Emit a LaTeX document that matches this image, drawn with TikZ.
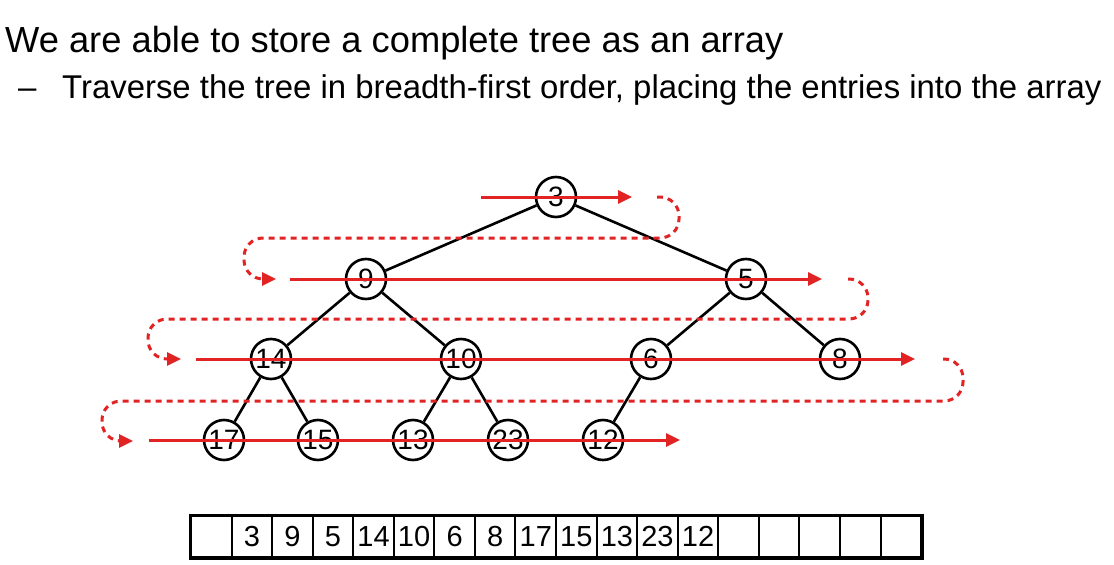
\documentclass[tikz,border=0pt]{standalone}
\usepackage{fontspec}
\setmainfont{Liberation Sans}
\usetikzlibrary{arrows.meta}
\definecolor{trav}{RGB}{226,35,35}
\begin{document}
\begin{tikzpicture}[x=1pt,y=-1pt,
  key/.style={circle,draw=black,line width=2.6pt,fill=white,minimum size=40pt,inner sep=0pt,font=\fontsize{28}{28}\selectfont},
  edge/.style={line width=2.6pt,black},
  sweep/.style={trav,line width=3pt,-{Triangle[length=14pt,width=13pt]}},
  wrap/.style={trav,line width=3pt,dash pattern=on 6pt off 5pt,rounded corners=19pt,-{Triangle[length=14pt,width=13pt]}},
  cell/.style={draw,line width=2pt,minimum width=40.56pt,minimum height=41pt,inner sep=0pt,anchor=west,font=\fontsize{29}{29}\selectfont}]
\useasboundingbox (0,0) rectangle (1114,565);

% heading
\node[anchor=base west,inner sep=0pt,font=\fontsize{36.3}{36}\selectfont] (title) at (5,52) {We are able to store a complete tree as an array};
\node[anchor=base west,inner sep=0pt,font=\fontsize{33}{33}\selectfont] (bullet) at (18,98) {–};
\node[anchor=base west,inner sep=0pt,font=\fontsize{32.9}{33}\selectfont] (sub) at (62,98) {Traverse the tree in breadth-first order, placing the entries into the array};

% tree
\node[key] (n3)  at (556,197) {3};
\node[key] (n9)  at (366,279) {9};
\node[key] (n5)  at (746,279) {5};
\node[key] (n14) at (271,359) {14};
\node[key] (n10) at (461,359) {10};
\node[key] (n6)  at (651,359) {6};
\node[key] (n8)  at (840,359) {8};
\node[key] (n17) at (224,440) {17};
\node[key] (n15) at (318,440) {15};
\node[key] (n13) at (413,440) {13};
\node[key] (n23) at (508,440) {23};
\node[key] (n12) at (603,440) {12};

\draw[edge] (n3) -- (n9);  \draw[edge] (n3) -- (n5);
\draw[edge] (n9) -- (n14); \draw[edge] (n9) -- (n10);
\draw[edge] (n5) -- (n6);  \draw[edge] (n5) -- (n8);
\draw[edge] (n14) -- (n17); \draw[edge] (n14) -- (n15);
\draw[edge] (n10) -- (n13); \draw[edge] (n10) -- (n23);
\draw[edge] (n6) -- (n12);

% breadth-first sweep, one level per line
\coordinate (a0) at (481,197); \coordinate (b0) at (632,197);
\coordinate (a1) at (290,279); \coordinate (b1) at (822,279);
\coordinate (a2) at (196,359); \coordinate (b2) at (915,359);
\coordinate (a3) at (149,440); \coordinate (b3) at (680,440);
\draw[sweep] (a0) -- (b0);
\draw[sweep] (a1) -- (b1);
\draw[sweep] (a2) -- (b2);
\draw[sweep] (a3) -- (b3);

% wrap-around from the end of one level to the start of the next
\draw[wrap] (657,197) -- (679,197) -- (679,238) -- (244,238) -- (244,279) -- (276,279);
\draw[wrap] (848,279) -- (868,279) -- (868,319) -- (148,319) -- (148,359) -- (181,359);
\draw[wrap] (943,359) -- (963,359) -- (963,401) -- (102,401) -- (102,441) -- (133,441);

% the array
\foreach \v [count=\i from 0] in {{},3,9,5,14,10,6,8,17,15,13,23,12,{},{},{},{},{}}
  \node[cell] (c\i) at (190+\i*40.56,536.5) {\v};
\draw[line width=3pt] (c0.north west) rectangle (c17.south east);
\end{tikzpicture}
\end{document}
